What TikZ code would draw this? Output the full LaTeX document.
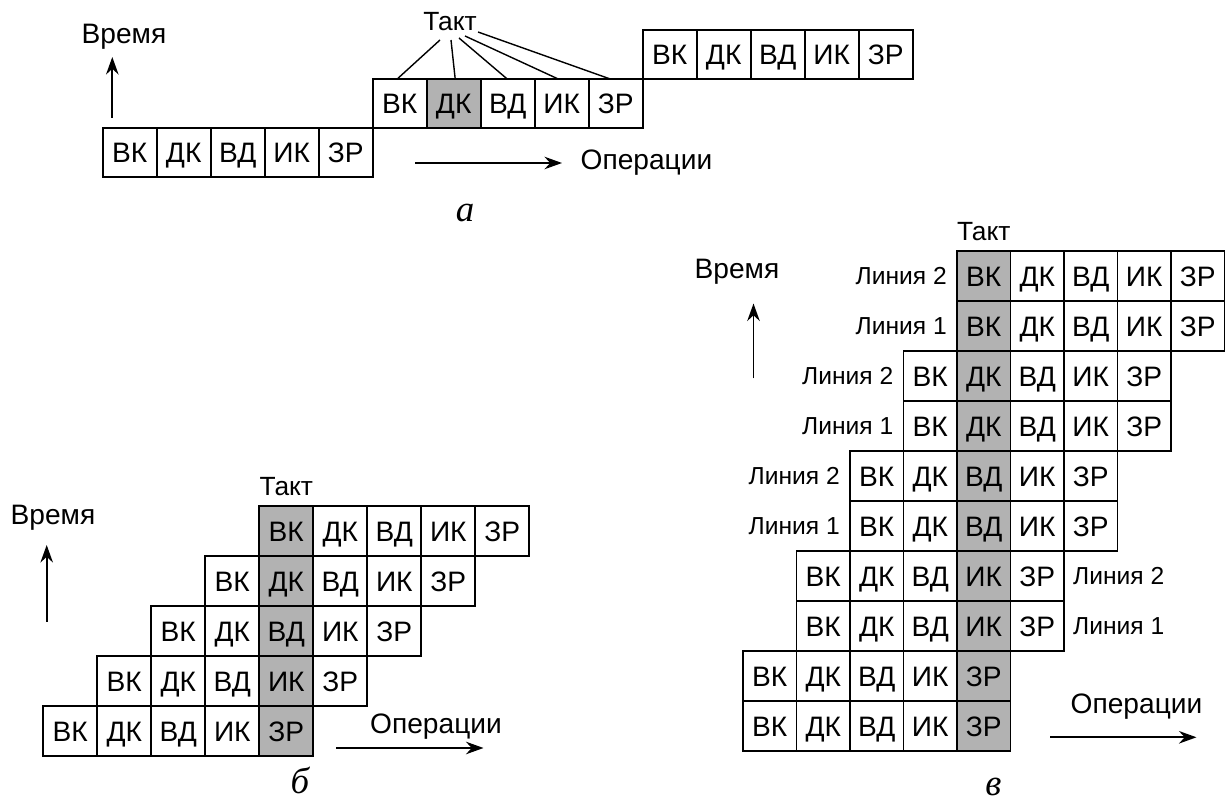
\documentclass[tikz,border=0pt]{standalone}
\usepackage{fontspec}
\setmainfont{Liberation Sans}
\newfontfamily\serifit{Liberation Serif}
\usetikzlibrary{arrows.meta,calc,positioning}

\begin{document}
\begin{tikzpicture}[>={Stealth[length=3.5mm, width=2.5mm]}, font=\fontsize{16}{18}\selectfont]

\fill[white] (0,0) rectangle (24.64,16.04);
\useasboundingbox (0,0) rectangle (24.64,16.04);

\tikzset{
  opcell/.style={draw, line width=1.1pt, minimum width=1.08cm, minimum height=1cm,
                 inner sep=0pt, outer sep=0pt, anchor=south west,
                 text height=11.6pt, text depth=0pt, font=\fontsize{16}{18}\selectfont},
  lbl/.style={font=\fontsize{16}{18}\selectfont},
  lineno/.style={font=\fontsize{14}{16}\selectfont},
  partlbl/.style={font=\serifit\itshape\fontsize{21}{24}\selectfont},
  axis/.style={->, line width=1.1pt}
}

% --- a: one line, three instructions
\fill[gray!60] (8.534,13.48) rectangle ++(1.08,0.98);
\foreach \r in {1,2,3} {
  \foreach \t [count=\j from 0] in {ВК,ДК,ВД,ИК,ЗР}
    \node[opcell, minimum height=0.98cm] (a\r\j) at (2.054+5.4*\r-5.4+1.08*\j, 11.52+0.98*\r) {\t};
}
\node[lbl, font=\fontsize{15}{17}\selectfont] (takta) at (9.0,15.6) {Такт};
\foreach \dx/\dy/\j/\sh in {-0.2/-0.36/0/-0.05, 0.02/-0.36/1/0.03, 0.18/-0.32/2/-0.01, 0.3/-0.28/3/-0.07, 0.56/-0.2/4/-0.11}
  \draw[line width=0.8pt] ($(takta)+(\dx,\dy)$) -- ([xshift=\sh cm]a2\j.north);

\coordinate (ta0) at (2.246,13.68);
\coordinate (ta1) at (2.246,14.9);
\draw[axis] (ta0) -- (ta1);
\node[lbl] (timea) at (2.48,15.3) {Время};
\coordinate (oa0) at (8.3,12.78);
\coordinate (oa1) at (11.24,12.78);
\draw[axis] (oa0) -- (oa1);
\node[lbl, right=0.25cm of oa1] (opa) {Операции};
\node[partlbl] (parta) at (9.3,11.78) {а};

% --- б: five stages overlapped
\fill[gray!60] (5.186,0.92) rectangle ++(1.08,5);
\foreach \i in {0,...,4} {
  \foreach \t [count=\j from 0] in {ВК,ДК,ВД,ИК,ЗР}
    \node[opcell] (b\i\j) at (0.866+1.08*\i+1.08*\j, 0.92+\i) {\t};
}
\node[lbl, font=\fontsize{15}{17}\selectfont, above=0.08cm of b40] (taktb) {Такт};
\coordinate (tb0) at (0.934,3.6);
\coordinate (tb1) at (0.934,5.14);
\draw[axis] (tb0) -- (tb1);
\node[lbl] (timeb) at (1.06,5.68) {Время};
\coordinate (ob0) at (6.72,1.08);
\coordinate (ob1) at (9.67,1.08);
\draw[axis] (ob0) -- (ob1);
\node[lbl] (opb) at (8.72,1.5) {Операции};
\node[partlbl] (partb) at (6.0,0.44) {б};

% --- в: two lines side by side
\fill[gray!60] (19.14,1.02) rectangle ++(1.07,10);
\foreach \i in {0,...,9} {
  \pgfmathtruncatemacro\k{\i/2}
  \foreach \t [count=\j from 0] in {ВК,ДК,ВД,ИК,ЗР}
    \node[opcell, minimum width=1.07cm] (c\i\j) at (14.86+1.07*\k+1.07*\j, 1.02+\i) {\t};
}
\foreach \i in {4,...,9} {
  \pgfmathtruncatemacro\n{mod(\i,2)+1}
  \node[lineno, left=0.08cm of c\i0] (lin\i) {Линия \n};
}
\node[lineno, right=0.06cm of c24] (lin2) {Линия 1};
\node[lineno, right=0.06cm of c34] (lin3) {Линия 2};
\node[lbl, font=\fontsize{15}{17}\selectfont, above=0.08cm of c90] (taktc) {Такт};
\coordinate (tc0) at (15.07,8.47);
\coordinate (tc1) at (15.07,9.97);
\draw[axis] (tc0) -- (tc1);
\node[lbl] (timec) at (14.74,10.6) {Время};
\coordinate (oc0) at (21.0,1.294);
\coordinate (oc1) at (23.93,1.294);
\draw[axis] (oc0) -- (oc1);
\node[lbl] (opc) at (22.73,1.906) {Операции};
\node[partlbl] (partc) at (19.87,0.306) {в};

\end{tikzpicture}
\end{document}
